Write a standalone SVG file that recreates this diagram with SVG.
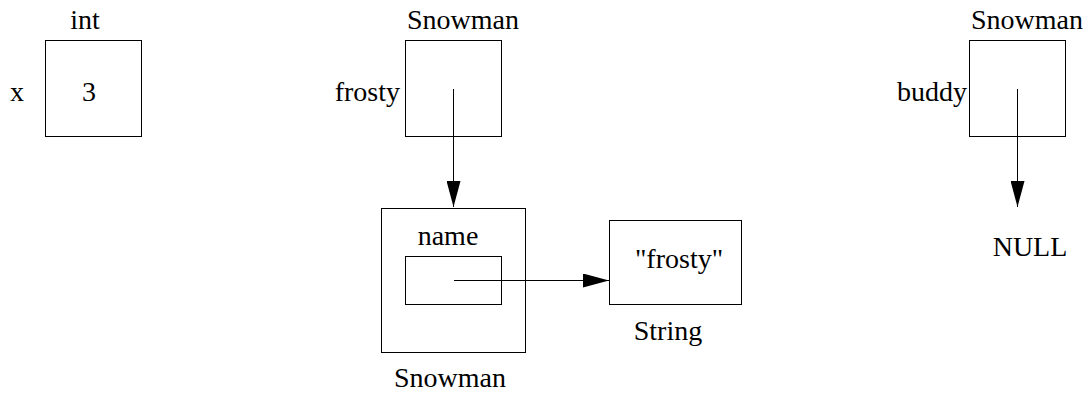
<svg xmlns="http://www.w3.org/2000/svg" width="1088" height="393" viewBox="0 0 1088 393">
<style>
.b{fill:none;stroke:#000;stroke-width:1}
.t{font-family:"Liberation Serif","Times New Roman",serif;font-size:28px;fill:#000}
.m{text-anchor:middle}
.e{text-anchor:end}
.c{stroke:#000;stroke-width:1;fill:none}
</style>
<defs>
<marker id="ah" viewBox="0 0 26 14" refX="26" refY="7" markerWidth="26" markerHeight="14" markerUnits="userSpaceOnUse" orient="auto">
<path d="M0,0 L26,7 L0,14 Z" fill="#000"/>
</marker>
</defs>
<rect width="1088" height="393" fill="#fff"/>
<g id="x-var">
<rect class="b" x="45.5" y="40.5" width="96" height="96"/>
<text class="t m" x="85" y="29">int</text>
<text class="t" x="10" y="101">x</text>
<text class="t m" x="89" y="101">3</text>
</g>
<g id="frosty-var">
<rect class="b" x="405.5" y="40.5" width="96" height="96"/>
<text class="t m" x="463" y="29">Snowman</text>
<text class="t e" x="400" y="101">frosty</text>
</g>
<g id="snowman-obj">
<rect class="b" x="381.5" y="208.5" width="144" height="144"/>
<text class="t m" x="448" y="245">name</text>
<rect class="b" x="405.5" y="256.5" width="96" height="48"/>
<text class="t m" x="450" y="387">Snowman</text>
</g>
<g id="string-obj">
<rect class="b" x="609.5" y="220.5" width="132" height="84"/>
<text class="t m" x="679" y="268">"frosty"</text>
<text class="t m" x="668" y="340">String</text>
</g>
<g id="buddy-var">
<rect class="b" x="969.5" y="40.5" width="96" height="96"/>
<text class="t m" x="1027" y="29">Snowman</text>
<text class="t e" x="967" y="101">buddy</text>
</g>
<g id="null-label">
<text class="t m" x="1030" y="256">NULL</text>
</g>
<g id="connectors">
<line class="c" x1="453.5" y1="89" x2="453.5" y2="207" marker-end="url(#ah)"/>
<line class="c" x1="454" y1="280.5" x2="609" y2="280.5" marker-end="url(#ah)"/>
<line class="c" x1="1017.5" y1="89" x2="1017.5" y2="207" marker-end="url(#ah)"/>
</g>
</svg>
